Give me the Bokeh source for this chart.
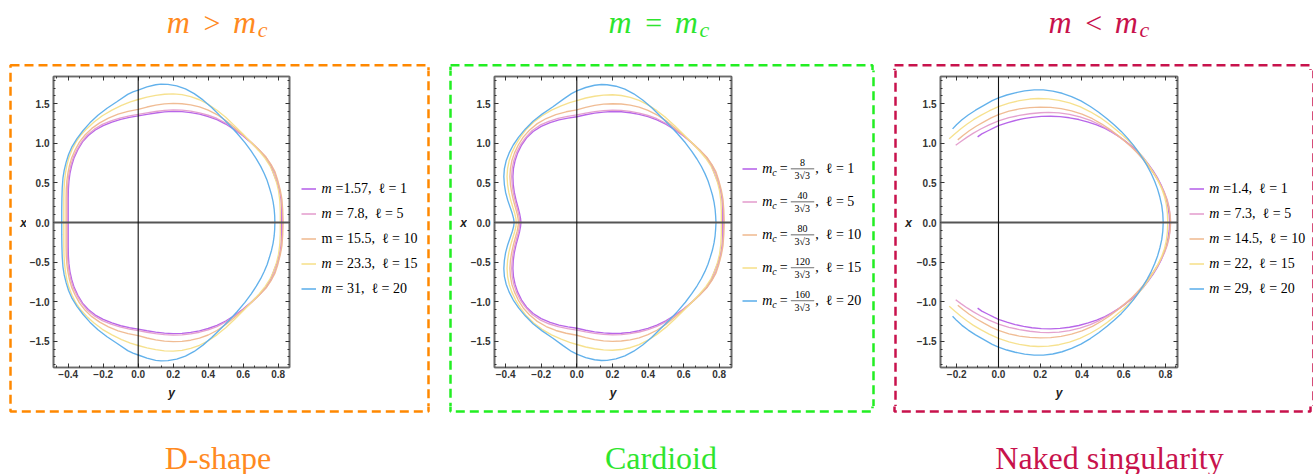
from bokeh.plotting import figure
from bokeh.layouts import row, column
from bokeh.models import (Range1d, LinearAxis, SingleIntervalTicker, CustomJSTickFormatter,
                          Span, Label, BoxAnnotation, Legend, LegendItem)
from bokeh.embed import file_html
from bokeh.resources import INLINE

# ---------------- data ----------------
series_colors = ["#b45ee8", "#e39ccc", "#efb88e", "#f6df88", "#5aadea"]
ell_values = [1, 5, 10, 15, 20]
m_dshape = ["1.57", "7.8", "15.5", "23.3", "31"]
mc_numerators = ["8", "40", "80", "120", "160"]
mc_denominator = "3\u221a3"
m_naked = ["1.4", "7.3", "14.5", "22", "29"]
title_ops = [">", "=", "<"]
bottom_names = ["D-shape", "Cardioid", "Naked singularity"]

# upper halves of the curves: horizontal coordinate "y", vertical coordinate "x"
dshape_y_1 = [-0.400, -0.400, -0.400, -0.399, -0.396, -0.390, -0.380, -0.366, -0.345, -0.318, -0.285, -0.245, -0.200, -0.150, -0.100, -0.050, 0.000, 0.050, 0.100, 0.150, 0.200, 0.250, 0.300, 0.350, 0.400, 0.450, 0.500, 0.550, 0.600, 0.650, 0.690, 0.730, 0.757, 0.775, 0.795, 0.808, 0.816, 0.820, 0.820]
dshape_x_1 = [0.000, 0.150, 0.300, 0.420, 0.520, 0.620, 0.720, 0.820, 0.920, 1.020, 1.100, 1.170, 1.225, 1.270, 1.305, 1.330, 1.348, 1.368, 1.385, 1.398, 1.405, 1.402, 1.390, 1.370, 1.340, 1.300, 1.245, 1.175, 1.095, 1.000, 0.915, 0.820, 0.720, 0.610, 0.500, 0.400, 0.300, 0.150, 0.000]
dshape_y_2 = [-0.405, -0.405, -0.405, -0.404, -0.401, -0.395, -0.385, -0.371, -0.350, -0.323, -0.290, -0.250, -0.205, -0.155, -0.105, -0.050, 0.000, 0.050, 0.100, 0.150, 0.200, 0.250, 0.300, 0.350, 0.400, 0.450, 0.500, 0.550, 0.600, 0.650, 0.690, 0.730, 0.760, 0.778, 0.795, 0.809, 0.818, 0.823, 0.825]
dshape_x_2 = [0.000, 0.150, 0.300, 0.420, 0.520, 0.620, 0.720, 0.820, 0.920, 1.020, 1.110, 1.180, 1.240, 1.285, 1.320, 1.348, 1.367, 1.387, 1.404, 1.417, 1.424, 1.421, 1.408, 1.387, 1.356, 1.315, 1.258, 1.185, 1.102, 1.005, 0.920, 0.825, 0.725, 0.640, 0.530, 0.410, 0.300, 0.150, 0.000]
dshape_y_3 = [-0.412, -0.412, -0.412, -0.411, -0.408, -0.402, -0.393, -0.380, -0.360, -0.335, -0.303, -0.265, -0.220, -0.170, -0.115, -0.058, 0.000, 0.050, 0.100, 0.150, 0.200, 0.250, 0.300, 0.350, 0.400, 0.450, 0.500, 0.550, 0.600, 0.650, 0.690, 0.730, 0.760, 0.782, 0.798, 0.812, 0.821, 0.826, 0.828]
dshape_x_3 = [0.000, 0.150, 0.300, 0.420, 0.520, 0.620, 0.720, 0.820, 0.920, 1.020, 1.110, 1.190, 1.260, 1.320, 1.370, 1.405, 1.430, 1.460, 1.484, 1.500, 1.506, 1.502, 1.488, 1.462, 1.422, 1.365, 1.290, 1.200, 1.105, 1.005, 0.920, 0.828, 0.730, 0.640, 0.530, 0.410, 0.300, 0.150, 0.000]
dshape_y_4 = [-0.425, -0.425, -0.425, -0.424, -0.421, -0.416, -0.408, -0.396, -0.378, -0.355, -0.326, -0.292, -0.252, -0.205, -0.150, -0.095, -0.045, 0.000, 0.050, 0.100, 0.150, 0.200, 0.250, 0.300, 0.350, 0.400, 0.450, 0.500, 0.550, 0.600, 0.650, 0.690, 0.725, 0.752, 0.773, 0.790, 0.802, 0.809, 0.812, 0.812]
dshape_x_4 = [0.000, 0.150, 0.300, 0.420, 0.520, 0.620, 0.720, 0.820, 0.920, 1.020, 1.110, 1.190, 1.270, 1.350, 1.420, 1.480, 1.525, 1.555, 1.585, 1.607, 1.622, 1.626, 1.616, 1.592, 1.552, 1.495, 1.420, 1.330, 1.225, 1.115, 1.000, 0.905, 0.810, 0.720, 0.620, 0.510, 0.400, 0.280, 0.140, 0.000]
dshape_y_5 = [-0.437, -0.437, -0.436, -0.434, -0.430, -0.423, -0.412, -0.398, -0.378, -0.350, -0.316, -0.276, -0.230, -0.178, -0.120, -0.060, -0.030, 0.000, 0.050, 0.100, 0.130, 0.170, 0.220, 0.270, 0.320, 0.370, 0.420, 0.470, 0.520, 0.566, 0.610, 0.645, 0.675, 0.700, 0.720, 0.737, 0.750, 0.762, 0.771, 0.777, 0.780, 0.781]
dshape_x_5 = [0.000, 0.150, 0.300, 0.440, 0.560, 0.660, 0.760, 0.860, 0.960, 1.060, 1.160, 1.260, 1.355, 1.445, 1.530, 1.620, 1.652, 1.675, 1.715, 1.742, 1.750, 1.747, 1.728, 1.690, 1.630, 1.550, 1.455, 1.345, 1.235, 1.125, 1.010, 0.905, 0.805, 0.710, 0.620, 0.530, 0.440, 0.350, 0.260, 0.170, 0.085, 0.000]

card_y_1 = [-0.314, -0.316, -0.321, -0.330, -0.341, -0.351, -0.357, -0.359, -0.356, -0.347, -0.332, -0.310, -0.282, -0.245, -0.200, -0.150, -0.100, -0.050, 0.000, 0.050, 0.100, 0.150, 0.200, 0.250, 0.300, 0.350, 0.400, 0.450, 0.500, 0.550, 0.600, 0.650, 0.690, 0.730, 0.757, 0.775, 0.795, 0.808, 0.816, 0.820, 0.820]
card_x_1 = [0.000, 0.050, 0.110, 0.190, 0.280, 0.380, 0.480, 0.580, 0.680, 0.780, 0.880, 0.980, 1.070, 1.150, 1.215, 1.262, 1.297, 1.320, 1.337, 1.362, 1.382, 1.396, 1.403, 1.400, 1.388, 1.368, 1.338, 1.298, 1.243, 1.173, 1.093, 0.998, 0.913, 0.818, 0.718, 0.610, 0.500, 0.400, 0.300, 0.150, 0.000]
card_y_2 = [-0.320, -0.322, -0.327, -0.336, -0.347, -0.357, -0.363, -0.366, -0.363, -0.354, -0.339, -0.317, -0.289, -0.252, -0.207, -0.157, -0.105, -0.052, 0.000, 0.050, 0.100, 0.150, 0.200, 0.250, 0.300, 0.350, 0.400, 0.450, 0.500, 0.550, 0.600, 0.650, 0.690, 0.730, 0.760, 0.778, 0.795, 0.809, 0.818, 0.823, 0.825]
card_x_2 = [0.000, 0.050, 0.110, 0.190, 0.280, 0.380, 0.480, 0.580, 0.680, 0.780, 0.880, 0.980, 1.070, 1.160, 1.230, 1.280, 1.317, 1.342, 1.360, 1.383, 1.401, 1.414, 1.421, 1.418, 1.405, 1.384, 1.353, 1.312, 1.255, 1.183, 1.100, 1.003, 0.918, 0.823, 0.723, 0.640, 0.530, 0.410, 0.300, 0.150, 0.000]
card_y_3 = [-0.328, -0.330, -0.335, -0.345, -0.356, -0.366, -0.373, -0.376, -0.373, -0.365, -0.350, -0.329, -0.301, -0.265, -0.222, -0.172, -0.118, -0.060, 0.000, 0.050, 0.100, 0.150, 0.200, 0.250, 0.300, 0.350, 0.400, 0.450, 0.500, 0.550, 0.600, 0.650, 0.690, 0.730, 0.760, 0.782, 0.798, 0.812, 0.821, 0.826, 0.828]
card_x_3 = [0.000, 0.050, 0.110, 0.190, 0.280, 0.380, 0.480, 0.580, 0.680, 0.780, 0.880, 0.980, 1.080, 1.170, 1.250, 1.315, 1.365, 1.400, 1.425, 1.456, 1.480, 1.496, 1.502, 1.498, 1.484, 1.458, 1.418, 1.362, 1.288, 1.198, 1.103, 1.003, 0.918, 0.826, 0.728, 0.640, 0.530, 0.410, 0.300, 0.150, 0.000]
card_y_4 = [-0.340, -0.342, -0.348, -0.359, -0.371, -0.382, -0.389, -0.392, -0.389, -0.380, -0.365, -0.344, -0.317, -0.283, -0.242, -0.195, -0.142, -0.088, -0.040, 0.000, 0.050, 0.100, 0.150, 0.200, 0.250, 0.300, 0.350, 0.400, 0.450, 0.500, 0.550, 0.600, 0.650, 0.690, 0.725, 0.752, 0.773, 0.790, 0.802, 0.809, 0.812, 0.812]
card_x_4 = [0.000, 0.050, 0.110, 0.190, 0.280, 0.380, 0.480, 0.580, 0.680, 0.780, 0.880, 0.980, 1.080, 1.180, 1.270, 1.350, 1.420, 1.475, 1.515, 1.542, 1.574, 1.596, 1.611, 1.615, 1.606, 1.583, 1.544, 1.488, 1.414, 1.326, 1.222, 1.113, 0.999, 0.904, 0.810, 0.720, 0.620, 0.510, 0.400, 0.280, 0.140, 0.000]
card_y_5 = [-0.352, -0.355, -0.362, -0.374, -0.388, -0.400, -0.407, -0.410, -0.407, -0.397, -0.380, -0.357, -0.327, -0.290, -0.246, -0.195, -0.136, -0.075, -0.030, 0.000, 0.050, 0.100, 0.139, 0.170, 0.220, 0.270, 0.320, 0.370, 0.420, 0.470, 0.520, 0.566, 0.610, 0.645, 0.675, 0.700, 0.720, 0.737, 0.750, 0.762, 0.771, 0.777, 0.780, 0.782]
card_x_5 = [0.000, 0.050, 0.110, 0.190, 0.280, 0.380, 0.480, 0.580, 0.680, 0.780, 0.880, 0.980, 1.080, 1.180, 1.280, 1.370, 1.460, 1.560, 1.630, 1.665, 1.707, 1.735, 1.745, 1.742, 1.723, 1.686, 1.627, 1.548, 1.453, 1.343, 1.233, 1.123, 1.008, 0.903, 0.803, 0.708, 0.618, 0.528, 0.438, 0.348, 0.258, 0.168, 0.083, 0.000]

naked_y_1 = [-0.100, -0.080, -0.050, -0.020, 0.000, 0.040, 0.080, 0.120, 0.160, 0.205, 0.250, 0.295, 0.340, 0.385, 0.430, 0.470, 0.510, 0.545, 0.580, 0.610, 0.640, 0.667, 0.692, 0.716, 0.740, 0.760, 0.778, 0.792, 0.804, 0.812, 0.818, 0.820]
naked_x_1 = [1.083, 1.120, 1.160, 1.200, 1.225, 1.260, 1.290, 1.313, 1.330, 1.341, 1.344, 1.338, 1.324, 1.302, 1.270, 1.235, 1.190, 1.140, 1.082, 1.025, 0.962, 0.895, 0.825, 0.745, 0.655, 0.570, 0.480, 0.390, 0.300, 0.200, 0.100, 0.000]
naked_y_2 = [-0.205, -0.180, -0.150, -0.120, -0.085, -0.045, 0.000, 0.050, 0.100, 0.150, 0.200, 0.240, 0.290, 0.340, 0.390, 0.440, 0.485, 0.525, 0.560, 0.595, 0.628, 0.658, 0.686, 0.712, 0.737, 0.760, 0.779, 0.795, 0.808, 0.817, 0.822, 0.825]
naked_x_2 = [0.977, 1.025, 1.080, 1.130, 1.182, 1.235, 1.285, 1.325, 1.354, 1.375, 1.388, 1.392, 1.386, 1.367, 1.336, 1.291, 1.236, 1.176, 1.116, 1.051, 0.981, 0.906, 0.826, 0.741, 0.651, 0.561, 0.471, 0.381, 0.291, 0.196, 0.100, 0.000]
naked_y_3 = [-0.195, -0.170, -0.140, -0.105, -0.070, -0.035, 0.000, 0.050, 0.100, 0.150, 0.200, 0.250, 0.300, 0.350, 0.400, 0.450, 0.495, 0.535, 0.570, 0.603, 0.634, 0.663, 0.690, 0.715, 0.740, 0.762, 0.780, 0.796, 0.808, 0.817, 0.822, 0.823]
naked_x_3 = [1.045, 1.100, 1.160, 1.220, 1.272, 1.322, 1.365, 1.408, 1.436, 1.452, 1.458, 1.455, 1.440, 1.412, 1.370, 1.312, 1.245, 1.175, 1.105, 1.035, 0.962, 0.885, 0.805, 0.720, 0.630, 0.540, 0.450, 0.360, 0.270, 0.180, 0.090, 0.000]
naked_y_4 = [-0.236, -0.210, -0.180, -0.150, -0.120, -0.085, -0.045, 0.000, 0.050, 0.100, 0.150, 0.190, 0.240, 0.290, 0.340, 0.390, 0.440, 0.485, 0.525, 0.560, 0.593, 0.624, 0.653, 0.680, 0.705, 0.728, 0.750, 0.768, 0.783, 0.795, 0.804, 0.809, 0.811]
naked_x_4 = [1.058, 1.118, 1.185, 1.245, 1.300, 1.355, 1.410, 1.465, 1.510, 1.541, 1.561, 1.568, 1.563, 1.545, 1.512, 1.465, 1.400, 1.330, 1.255, 1.180, 1.105, 1.030, 0.950, 0.865, 0.780, 0.690, 0.600, 0.510, 0.420, 0.330, 0.230, 0.120, 0.000]
naked_y_5 = [-0.220, -0.200, -0.175, -0.145, -0.110, -0.070, -0.030, 0.000, 0.040, 0.080, 0.125, 0.171, 0.215, 0.260, 0.305, 0.350, 0.395, 0.440, 0.480, 0.520, 0.555, 0.588, 0.618, 0.645, 0.670, 0.693, 0.713, 0.732, 0.748, 0.762, 0.773, 0.782, 0.787, 0.789]
naked_x_5 = [1.184, 1.240, 1.300, 1.360, 1.420, 1.480, 1.540, 1.575, 1.612, 1.640, 1.664, 1.677, 1.676, 1.662, 1.634, 1.592, 1.537, 1.467, 1.394, 1.312, 1.232, 1.152, 1.067, 0.982, 0.892, 0.802, 0.712, 0.617, 0.522, 0.422, 0.322, 0.217, 0.112, 0.000]

dshape_curves = [(dshape_y_1, dshape_x_1), (dshape_y_2, dshape_x_2), (dshape_y_3, dshape_x_3),
                 (dshape_y_4, dshape_x_4), (dshape_y_5, dshape_x_5)]
card_curves = [(card_y_1, card_x_1), (card_y_2, card_x_2), (card_y_3, card_x_3),
               (card_y_4, card_x_4), (card_y_5, card_x_5)]
naked_curves = [(naked_y_1, naked_x_1), (naked_y_2, naked_x_2), (naked_y_3, naked_x_3),
                (naked_y_4, naked_x_4), (naked_y_5, naked_x_5)]


def mirrored(ys, xs):
    """upper half followed by its reflection through the horizontal axis"""
    return list(ys) + list(ys[::-1][1:]), list(xs) + [-v for v in xs[::-1][1:]]


# ---------------- layout (canvas pixels) ----------------
W, H = 1313, 474
TOP_H, MID_TOP, MID_BOT = 70, 70, 406
FRAME_TOP, FH = 76, 291
YR = (-1.833, 1.846)
BOX_TOP, BOX_BOTTOM = 64.7, 411.0
SERIF = "Liberation Serif"
NB = "\u00a0"   # non-breaking space keeps the wider gaps of the original labels
LEG_FS = 14

panels = [
    dict(A=(0, 26), B=(26, 293), FL=53, FW=236, C=(293, 439), box=(10, 428),
         xr=(-0.484, 0.8646), minor=3, tcen=218.3, bcen=217.5,
         title_color="#ff8a1f", box_color="#ff8800",
         leg_x=301.0, row0=188.3, rh=25, kind="plain", masses=m_dshape, curves=dshape_curves),
    dict(A=(439, 467), B=(467, 734), FL=493, FW=237, C=(734, 881), box=(450, 872),
         xr=(-0.4624, 0.8691), minor=3, tcen=660.0, bcen=660.5,
         title_color="#2ee52e", box_color="#22ee22",
         leg_x=740.7, row0=168.3, rh=33, kind="frac", masses=None, curves=card_curves),
    dict(A=(881, 912), B=(912, 1178), FL=937, FW=237, C=(1178, 1313), box=(894, 1310),
         xr=(-0.2778, 0.8575), minor=4, tcen=1100.0, bcen=1109.0,
         title_color="#c8124c", box_color="#c8124c",
         leg_x=1185.7, row0=188.3, rh=25, kind="plain", masses=m_naked, curves=naked_curves),
]


def strip(x0, x1, y0, y1):
    """a figure whose frame is the whole strip; data units equal canvas pixels"""
    p = figure(width=x1 - x0, height=y1 - y0, x_range=Range1d(x0, x1), y_range=Range1d(y1, y0),
               x_axis_type=None, y_axis_type=None, min_border=0, frame_align=False,
               output_backend="svg", toolbar_location=None)
    p.outline_line_color = None
    p.background_fill_color = "white"
    p.border_fill_color = "white"
    return p


def lab(p, x, y, text, size, color="black", style="normal", align="left",
        baseline="middle", font=SERIF):
    p.add_layout(Label(x=x, y=y, text=text, text_font=font, text_font_size=f"{size}px",
                       text_font_style=style, text_color=color, text_align=align,
                       text_baseline=baseline))


def dashed_box(p, cfg):
    x0, x1 = cfg["box"]
    p.add_layout(BoxAnnotation(left=x0, right=x1, top=BOX_TOP, bottom=BOX_BOTTOM,
                               fill_color=None, fill_alpha=0, line_color=cfg["box_color"],
                               line_alpha=1.0, line_width=2.5, line_dash="9 5", level="overlay"))


def labelled_fmt():
    return CustomJSTickFormatter(code="if (Math.abs(tick) < 1e-9) { return '0.0'; } "
                                      "return tick.toFixed(1).replace('-', '\\u2212');")


def make_axis(interval, minor, labels, **kw):
    return LinearAxis(
        ticker=SingleIntervalTicker(interval=interval, num_minor_ticks=minor),
        formatter=labelled_fmt() if labels else CustomJSTickFormatter(code="return '';"),
        axis_line_color="#6a6a6a", axis_line_width=1.6,
        major_tick_in=4, major_tick_out=0, minor_tick_in=2, minor_tick_out=0,
        major_tick_line_color="#333333", minor_tick_line_color="#333333",
        major_label_text_font="Liberation Sans", major_label_text_font_style="bold",
        major_label_text_font_size="10px", major_label_text_color="#333333",
        major_label_standoff=0, **kw)


# ---- top strip: titles ----
top = strip(0, W, 0, TOP_H)
for i, cfg in enumerate(panels):
    dashed_box(top, cfg)
    tc, col = cfg["tcen"], cfg["title_color"]
    lab(top, tc - 52.0, 21.0, "m", 32, color=col, style="italic")
    lab(top, tc - 15.3, 21.5, title_ops[i], 30, color=col)
    lab(top, tc + 14.3, 21.0, "m", 32, color=col, style="italic")
    lab(top, tc + 39.0, 29.0, "c", 22, color=col, style="italic")

# ---- bottom strip: names ----
bottom = strip(0, W, MID_BOT, H)
for i, cfg in enumerate(panels):
    dashed_box(bottom, cfg)
    lab(bottom, cfg["bcen"], 457.0, bottom_names[i], 32, color=cfg["title_color"], align="center")

# ---- middle row ----
middle = []
for i, cfg in enumerate(panels):
    # left strip: box edge and the vertical axis name
    a = strip(cfg["A"][0], cfg["A"][1], MID_TOP, MID_BOT)
    dashed_box(a, cfg)
    lab(a, cfg["FL"] - 30, 222, "x", 12, color="#222222", style="bold italic",
        align="center", font="Liberation Sans")

    # plot
    b0, b1 = cfg["B"]
    L = cfg["FL"] - b0
    R = b1 - (cfg["FL"] + cfg["FW"])
    p = figure(frame_width=cfg["FW"], frame_height=FH, min_border_left=L, min_border_right=R,
               min_border_top=FRAME_TOP - MID_TOP, min_border_bottom=MID_BOT - (FRAME_TOP + FH),
               x_range=Range1d(*cfg["xr"]), y_range=Range1d(*YR),
               x_axis_type=None, y_axis_type=None, frame_align=False,
               output_backend="svg", toolbar_location=None)
    p.outline_line_color = "#6a6a6a"
    p.outline_line_width = 1.6
    p.background_fill_color = "white"
    p.border_fill_color = "white"
    xb = make_axis(0.2, cfg["minor"], True, axis_label="y",
                   axis_label_text_font="Liberation Sans", axis_label_text_font_style="bold italic",
                   axis_label_text_font_size="12px", axis_label_text_color="#222222",
                   axis_label_standoff=5)
    xb.major_label_standoff = 2
    p.add_layout(xb, "below")
    yl = make_axis(0.5, 5, True)
    yl.major_label_standoff = 4
    p.add_layout(yl, "left")
    p.add_layout(make_axis(0.2, cfg["minor"], False, major_label_orientation="vertical"), "above")
    p.add_layout(make_axis(0.5, 5, False), "right")

    curves_full = [mirrored(ys, xs) for ys, xs in cfg["curves"]]
    for (Y, X), c in zip(curves_full, series_colors):
        p.line(Y, X, line_color=c, line_width=1.35, line_alpha=0.95)
    p.add_layout(Span(location=0, dimension="width", line_color="#555555", line_width=2))
    p.add_layout(Span(location=0, dimension="height", line_color="#111111", line_width=1.1))

    # right strip: legend (keys drawn by the library legend), box edge
    c0, c1 = cfg["C"]
    cs = strip(c0, c1, MID_TOP, MID_BOT)
    dashed_box(cs, cfg)
    # the same series in this strip fall outside its visible range; only their legend keys show
    keys = [cs.line(Y, X, line_color=c, line_width=1.6, line_alpha=0.95)
            for (Y, X), c in zip(curves_full, series_colors)]
    rh, row0 = cfg["rh"], cfg["row0"]
    leg_bottom = row0 - rh / 2 + 5 * rh
    legend = Legend(items=[LegendItem(label=" ", renderers=[k]) for k in keys],
                    location=(cfg["leg_x"] - c0, MID_BOT - leg_bottom),
                    orientation="vertical", padding=0, margin=0, spacing=0,
                    glyph_width=15, glyph_height=rh, label_height=rh,
                    label_width=1, label_standoff=0, label_text_font_size="1px",
                    border_line_alpha=0, background_fill_alpha=0)
    cs.add_layout(legend)

    tx = cfg["leg_x"] + 20
    for k in range(5):
        yc = row0 + k * rh
        if cfg["kind"] == "plain":
            style_m = "normal" if (i == 0 and k == 2) else "italic"
            lab(cs, tx, yc, "m", LEG_FS, style=style_m)
            gap = "" if k == 0 else NB
            lab(cs, tx + 14.0, yc,
                f"={gap}{cfg['masses'][k]},{NB}{NB}\u2113{NB}={NB}{ell_values[k]}", LEG_FS)
        else:
            lab(cs, tx, yc, "m", LEG_FS, style="italic")
            lab(cs, tx + 10.0, yc + 3.5, "c", 10, style="italic")
            lab(cs, tx + 17.5, yc, "=", LEG_FS)
            lab(cs, tx + 40.3, yc - 6.0, mc_numerators[k], 10, align="center")
            cs.add_layout(BoxAnnotation(left=tx + 28.6, right=tx + 52.0, top=yc - 0.35,
                                        bottom=yc + 0.35, fill_color="#222222", fill_alpha=0.9,
                                        line_color=None, level="overlay"))
            lab(cs, tx + 40.0, yc + 7.0, mc_denominator, 10, align="center")
            lab(cs, tx + 53.0, yc, f",{NB}{NB}\u2113{NB}={NB}{ell_values[k]}", LEG_FS)

    middle += [a, p, cs]

layout = column(top, row(*middle, spacing=0), bottom, spacing=0)
open("out.html", "w").write(file_html(layout, INLINE))
